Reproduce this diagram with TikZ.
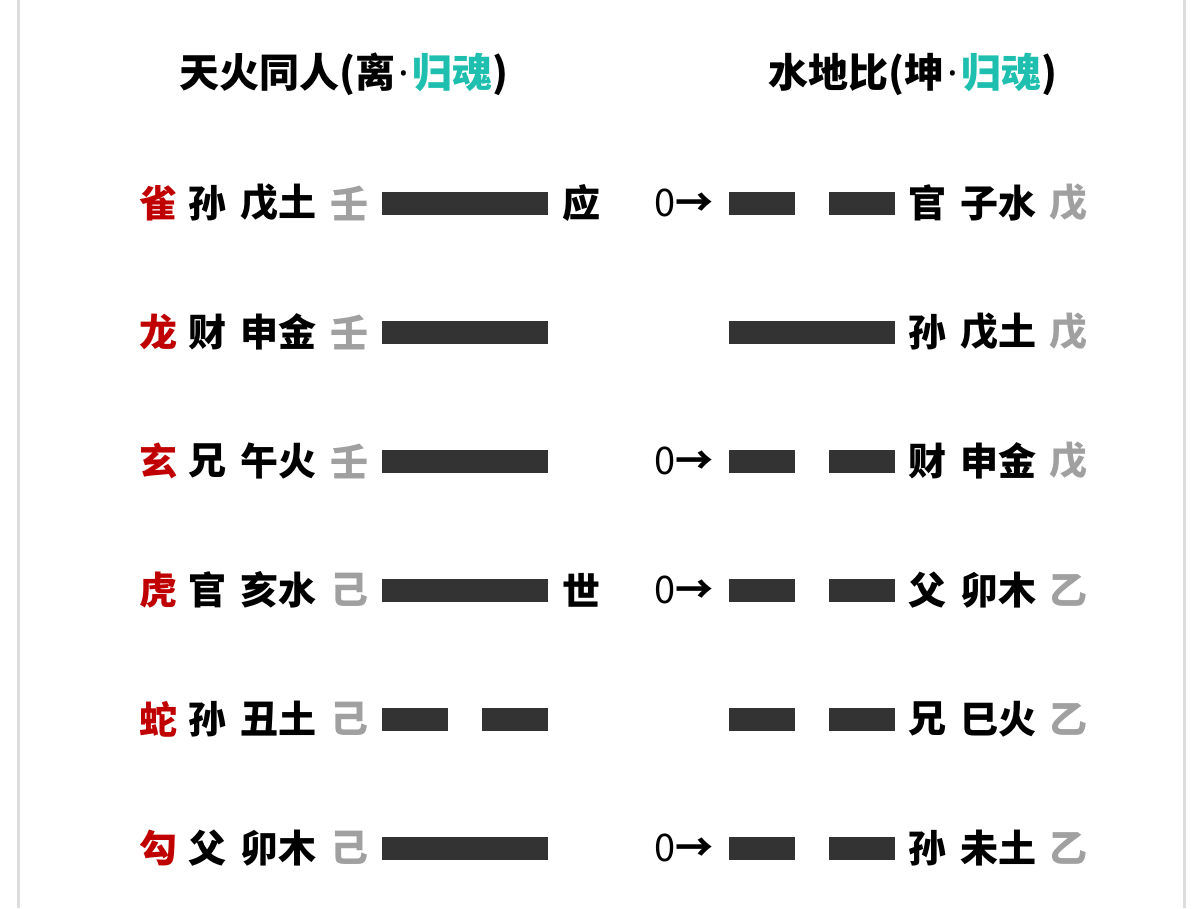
\documentclass[tikz,border=0pt]{standalone}
\usepackage{fontspec}
\setmainfont{Noto Sans CJK SC}
\newfontfamily\dotfont{Noto Sans}
\usetikzlibrary{positioning}
\definecolor{GodRed}{HTML}{C00000}
\definecolor{SoulTeal}{HTML}{1EBFAE}
\definecolor{StemGray}{HTML}{A0A0A0}
\definecolor{BarInk}{HTML}{333333}
\definecolor{FrameGray}{HTML}{DDDDDD}
% one yao line: left x, centre y, 1 = yang / 0 = yin
\newcommand{\yaoline}[3]{%
  \ifnum#3=1
    \fill[BarInk] (#1,#2-11.5) rectangle ++(166,23);
  \else
    \fill[BarInk] (#1,#2-11.5) rectangle ++(66,23);
    \fill[BarInk] (#1+100,#2-11.5) rectangle ++(66,23);
  \fi}
\newcommand{\midot}{{\dotfont\mdseries\kern3pt·\kern3pt}}
\newcommand{\chgmark}{0{\bfseries→}}

\begin{document}
\begin{tikzpicture}[x=1pt,y=-1pt,font=\bfseries\fontsize{38}{44}\selectfont,
  every node/.style={inner sep=0pt,text=black},
  title/.style={font=\bfseries\fontsize{40}{46}\selectfont},
  stem/.style={text=StemGray},
  god/.style={text=GodRed},
  moving/.style={font=\fontsize{38}{44}\selectfont}]
  \useasboundingbox (0,0) rectangle (1198,908);
  \fill[FrameGray] (17,0) rectangle (20,908);
  \fill[FrameGray] (1183,0) rectangle (1186,908);

  \node[title] (titleL) at (344,74) {天火同人(离\midot{\color{SoulTeal}归魂})};
  \node[title] (titleR) at (913,74) {水地比(坤\midot{\color{SoulTeal}归魂})};

  \foreach \y/\g/\r/\b/\s/\L/\m/\c/\R/\rr/\rb/\rs [count=\i] in {
      203/雀/孙/戊土/壬/1/应/\chgmark/0/官/子水/戊,
      332/龙/财/申金/壬/1/{}/{}/1/孙/戊土/戊,
      461/玄/兄/午火/壬/1/{}/\chgmark/0/财/申金/戊,
      590/虎/官/亥水/己/1/世/\chgmark/0/父/卯木/乙,
      719/蛇/孙/丑土/己/0/{}/{}/0/兄/巳火/乙,
      848/勾/父/卯木/己/1/{}/\chgmark/0/孙/未土/乙}{
    % left hexagram
    \node[god] (god\i) at (158,\y) {\g};
    \node (relL\i) at (207,\y) {\r};
    \node (brL\i) at (278,\y) {\b};
    \node[stem] (stemL\i) at (349,\y) {\s};
    \yaoline{382}{\y}{\L}
    \node (mark\i) at (581,\y) {\m};
    % right hexagram
    \node[moving] (chg\i) at (684,\y) {\c};
    \yaoline{729}{\y}{\R}
    \node (relR\i) at (927,\y) {\rr};
    \node (brR\i) at (998,\y) {\rb};
    \node[stem] (stemR\i) at (1068,\y) {\rs};
  }
\end{tikzpicture}
\end{document}
